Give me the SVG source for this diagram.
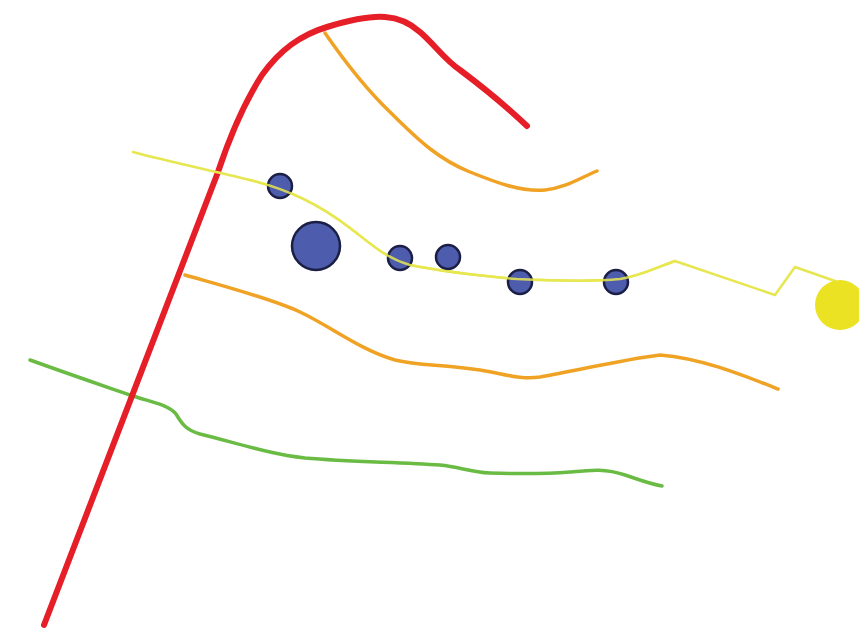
<svg xmlns="http://www.w3.org/2000/svg" width="859" height="637" viewBox="0 0 859 637">
<style>
.ln{fill:none;stroke-linecap:round;stroke-linejoin:round}
.red{stroke:#e61e27;stroke-width:6}
.org{stroke:#f0a224;stroke-width:3.5}
.grn{stroke:#6abb44;stroke-width:3.5}
.yel{stroke:#e6e650;stroke-width:2.5}
.dot{fill:#4e5cad;stroke:#1c1f45;stroke-width:2.5}
</style>
<rect width="859" height="637" fill="#ffffff"/>
<g id="connectors">
<path class="ln org" d="M325,33 C345,62 367,90 390,112 C420,142 440,160 470,172 C495,182 520,192 545,190 C565,188 580,178 597,171"/>
<path class="ln org" d="M185,275 C220,285 270,298 300,312 C330,326 360,350 395,360 C420,366 440,364 480,370 C505,374 520,380 540,377 C580,370 620,360 660,355 C700,358 740,374 778,389"/>
<path class="ln grn" d="M30,360 C80,378 110,388 130,395 C150,402 168,404 176,414 C182,424 186,430 200,434 C240,444 270,454 305,458 C350,462 400,462 440,465 C460,467 470,472 490,473 C520,474 545,474 570,472 C590,470 605,468 625,475 C640,480 650,484 662,486"/>
<path class="ln red" d="M44,625 L218,172 C232,130 246,100 262,75 C280,50 300,35 327,27 C350,20 370,16 385,17 C400,18 410,23 420,32 C435,45 445,60 460,70 C480,85 505,105 527,126"/>
<path class="ln yel" d="M133,152 C170,162 210,170 250,180 C290,190 320,205 350,228 C370,243 385,258 410,265 C440,271 470,275 517,279 C560,281 600,281 620,279 C640,276 655,268 675,261 L775,295 L795,267 L835,281"/>
</g>
<g id="n1"><circle class="dot" cx="280" cy="186" r="12"/></g>
<g id="n2"><circle class="dot" cx="316" cy="246" r="24"/></g>
<g id="n3"><circle class="dot" cx="400" cy="258" r="12"/></g>
<g id="n4"><circle class="dot" cx="448" cy="257" r="12"/></g>
<g id="n5"><circle class="dot" cx="520" cy="282" r="12"/></g>
<g id="n6"><circle class="dot" cx="616" cy="282" r="12"/></g>
<g id="overlay">
<path class="ln yel" d="M250,180 C290,190 320,205 350,228 C370,243 385,258 410,265 C440,271 470,275 517,279 C560,281 600,281 620,279 C640,276 655,268 675,261" opacity="0.85"/>
</g>
<g id="sun"><circle cx="840" cy="305" r="25" fill="#ebe224"/></g>
</svg>
